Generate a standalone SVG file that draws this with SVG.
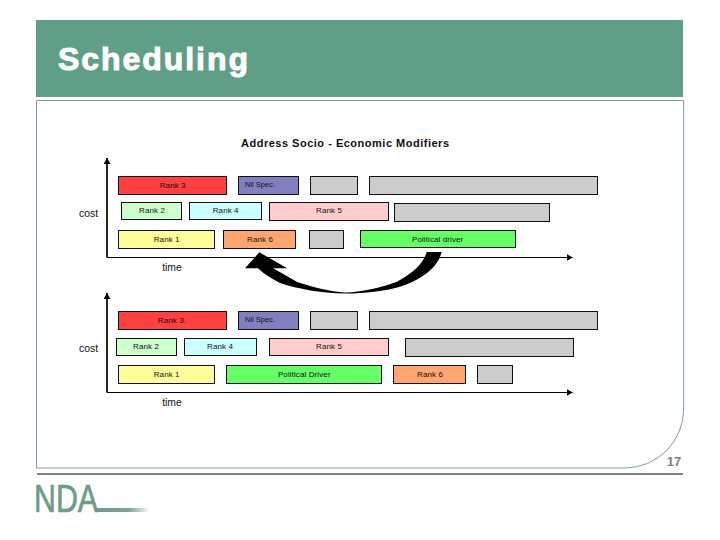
<svg xmlns="http://www.w3.org/2000/svg" width="720" height="540" viewBox="0 0 720 540">
<style>
text{font-family:"Liberation Sans",Arial,sans-serif}
.b{stroke:#111;stroke-width:1}
.l{font-size:8px;fill:#111;text-anchor:middle;letter-spacing:.1px}
.n{font-size:7.5px;fill:#111}
.ax{font-size:10.4px;fill:#111;text-anchor:middle}
.axis{stroke:#000;stroke-width:1.1;fill:none;marker-end:url(#ah)}
.v{stroke-width:1.7}
.red{fill:#ff4040}.nil{fill:#8080c0}.grey{fill:#cccccc}.r2{fill:#ccffcc}.r4{fill:#ccffff}.r5{fill:#ffcccc}.r1{fill:#ffff99}.r6{fill:#ffa570}.pol{fill:#66ff66}
</style>
<defs>
<marker id="ah" markerUnits="userSpaceOnUse" markerWidth="8" markerHeight="8" refX="6" refY="3.5" orient="auto"><path d="M0,0L6,3.5L0,7Z" fill="#000"/></marker>
<linearGradient id="tail"><stop offset="0" stop-color="#6f9c86"/><stop offset="0.6" stop-color="#7ba592"/><stop offset="1" stop-color="#6f9c86" stop-opacity="0"/></linearGradient>
</defs>
<rect width="720" height="540" fill="#fff"/>
<g id="header"><rect x="36" y="20" width="647" height="77" fill="#5f9f87"/><text x="58" y="69.5" font-size="32" font-weight="700" fill="#fff" stroke="#fff" stroke-width="1" textLength="190" lengthAdjust="spacing">Scheduling</text></g>
<path id="panel" d="M36.5,100.5H683.7V409A59,59 0 0 1 625,468H36.5Z" fill="#fff" stroke="#7d9f95" stroke-width="1"/>
<rect id="divider" x="37" y="473" width="646" height="2" fill="#808080"/>
<text id="title" x="345" y="147" font-size="11" font-weight="700" fill="#111" text-anchor="middle" textLength="208" lengthAdjust="spacing">Address Socio - Economic Modifiers</text>

<g id="connectors">
<path class="axis v" d="M107,257.5V158"/><path class="axis" d="M107,257.5H572.7"/>
<path class="axis v" d="M107,392.5V293"/><path class="axis" d="M107,392.5H572.7"/>
<path id="curved-arrow" d="M426.7,252C424,262 415,272 397,281.7C380,288 362,292 345,292.5C330,291.5 312,287 296.7,281.7C288,277 280,272 273,268.3H287.3L259.3,252.3L245,268.3H258C264,274 272,279 280,283C296,288.5 320,293 345,293.5C365,293.5 385,291 400,286.7C418,281 437,270 441.7,252Z" fill="#000"/>
</g>

<g id="chart-top">
<g id="t-rank3"><rect class="b red" x="118.5" y="176.5" width="108" height="18"/><text class="l" x="172.7" y="188">Rank 3</text></g>
<g id="t-nil"><rect class="b nil" x="238.5" y="176.5" width="60" height="18"/><text class="n" x="245" y="187">Nil Spec.</text></g>
<g id="t-g1"><rect class="b grey" x="310.5" y="176.5" width="47" height="18"/></g>
<g id="t-g2"><rect class="b grey" x="369.5" y="176.5" width="228" height="18"/></g>
<g id="t-rank2"><rect class="b r2" x="121.5" y="202.5" width="60" height="17"/><text class="l" x="152" y="212.7">Rank 2</text></g>
<g id="t-rank4"><rect class="b r4" x="189.5" y="202.5" width="72" height="17"/><text class="l" x="225.7" y="212.7">Rank 4</text></g>
<g id="t-rank5"><rect class="b r5" x="269.5" y="202.5" width="119" height="18"/><text class="l" x="329" y="212.7">Rank 5</text></g>
<g id="t-g3"><rect class="b grey" x="394.5" y="203.5" width="155" height="18"/></g>
<g id="t-rank1"><rect class="b r1" x="118.5" y="230.5" width="96" height="18"/><text class="l" x="166.7" y="242">Rank 1</text></g>
<g id="t-rank6"><rect class="b r6" x="223.5" y="230.5" width="72" height="18"/><text class="l" x="260" y="242">Rank 6</text></g>
<g id="t-g4"><rect class="b grey" x="309.5" y="230.5" width="34" height="18"/></g>
<g id="t-pol"><rect class="b pol" x="360.5" y="230.5" width="155" height="17"/><text class="l" x="437.7" y="242">Political driver</text></g>
<text class="ax" x="88.5" y="217">cost</text><text class="ax" x="172" y="271">time</text>
</g>

<g id="chart-bottom">
<g id="b-rank3"><rect class="b red" x="118.5" y="311.5" width="108" height="18"/><text class="l" x="172" y="323.3">Rank 3.</text></g>
<g id="b-nil"><rect class="b nil" x="238.5" y="311.5" width="60" height="18"/><text class="n" x="245" y="322">Nil Spec.</text></g>
<g id="b-g1"><rect class="b grey" x="310.5" y="311.5" width="47" height="18"/></g>
<g id="b-g2"><rect class="b grey" x="369.5" y="311.5" width="228" height="18"/></g>
<g id="b-rank2"><rect class="b r2" x="116.5" y="338.5" width="60" height="17"/><text class="l" x="146" y="349">Rank 2</text></g>
<g id="b-rank4"><rect class="b r4" x="184.5" y="338.5" width="72" height="17"/><text class="l" x="220" y="349">Rank 4</text></g>
<g id="b-rank5"><rect class="b r5" x="269.5" y="338.5" width="119" height="17"/><text class="l" x="329" y="349">Rank 5</text></g>
<g id="b-g3"><rect class="b grey" x="405.5" y="338.5" width="168" height="18"/></g>
<g id="b-rank1"><rect class="b r1" x="118.5" y="365.5" width="96" height="18"/><text class="l" x="166.7" y="376.7">Rank 1</text></g>
<g id="b-pol"><rect class="b pol" x="226.5" y="365.5" width="155" height="18"/><text class="l" x="304.3" y="376.7">Political Driver</text></g>
<g id="b-rank6"><rect class="b r6" x="393.5" y="365.5" width="72" height="18"/><text class="l" x="430" y="376.7">Rank 6</text></g>
<g id="b-g4"><rect class="b grey" x="477.5" y="365.5" width="35" height="18"/></g>
<text class="ax" x="88.5" y="351.7">cost</text><text class="ax" x="172" y="405.7">time</text>
</g>

<text id="page" x="674" y="466" font-size="13" font-weight="700" fill="#808080" text-anchor="middle">17</text>
<g id="logo"><text x="34" y="511.5" font-size="39" fill="#6f9c86" stroke="#6f9c86" stroke-width=".7" textLength="64" lengthAdjust="spacingAndGlyphs">NDA</text><rect x="96" y="508" width="54" height="4" fill="url(#tail)"/></g>
</svg>
